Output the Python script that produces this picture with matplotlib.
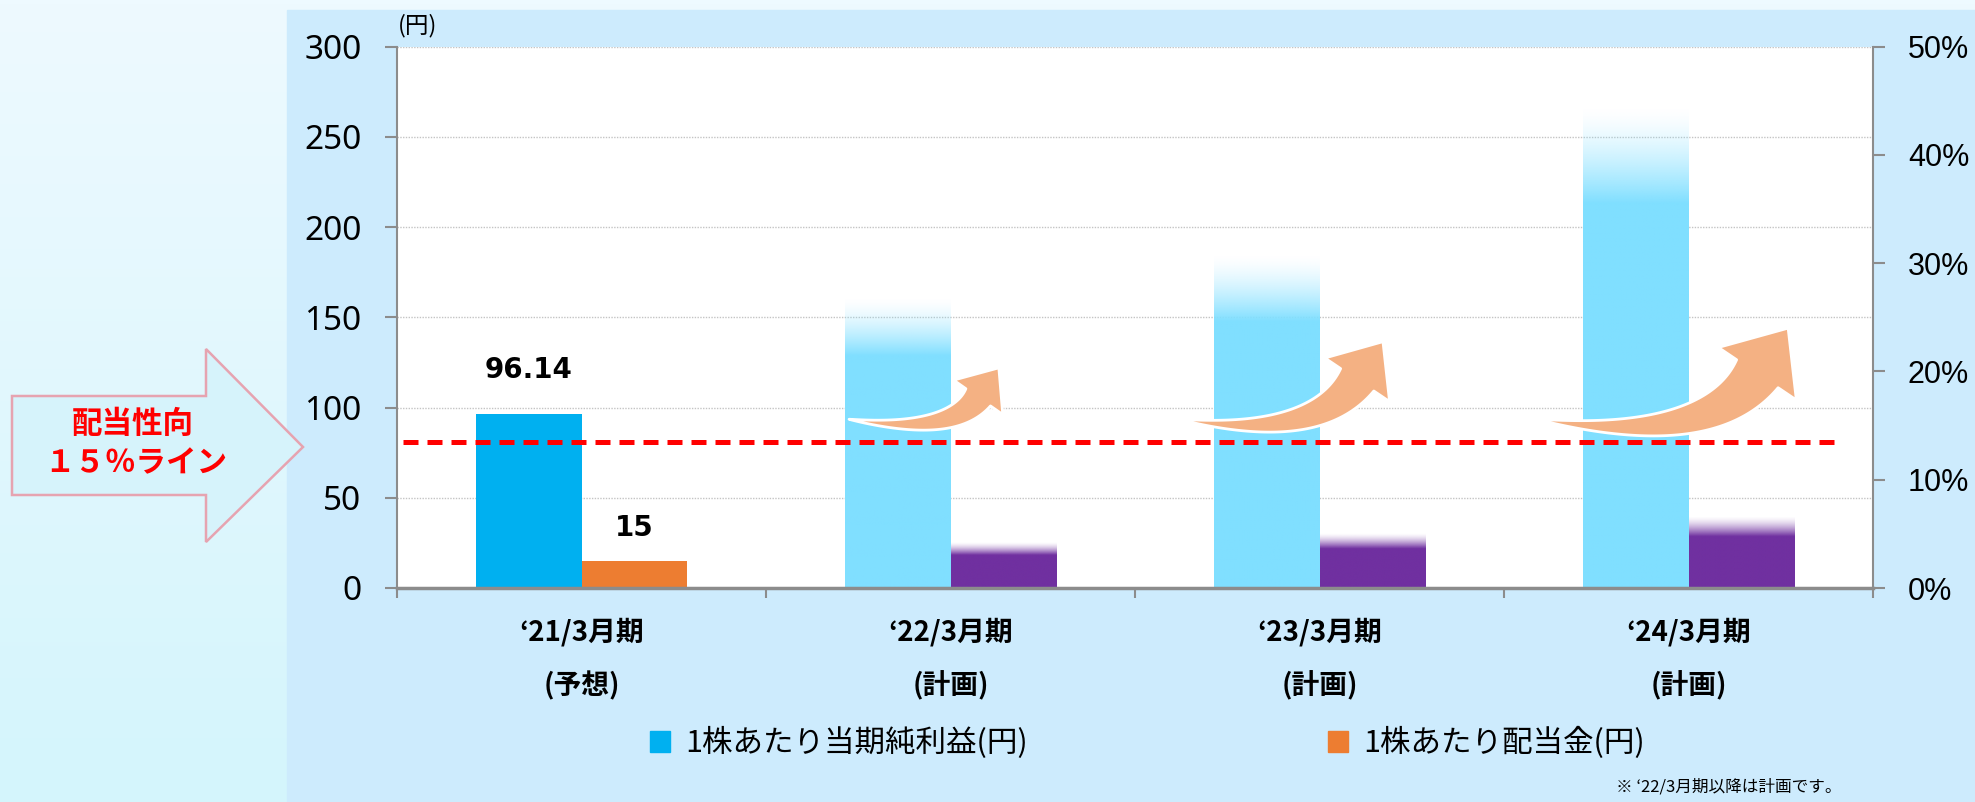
import numpy as np
import matplotlib.pyplot as plt
import matplotlib.transforms as mtransforms
from matplotlib.patches import Patch, Polygon, Rectangle
from matplotlib.colors import to_rgb

plt.rcParams['font.family'] = ['Noto Sans CJK JP', 'DejaVu Sans']

# ── data ─────────────────────────────────────────────────────────────────────
periods      = ['‘21/3月期', '‘22/3月期', '‘23/3月期', '‘24/3月期']
period_notes = ['(予想)', '(計画)', '(計画)', '(計画)']
eps          = [96.14, 161, 185, 267]     # 1株あたり当期純利益(円)
dps          = [15, 25, 30, 39.5]         # 1株あたり配当金(円)
is_plan      = [False, True, True, True]
payout_line  = 13.5                       # 配当性向ライン (%), right axis
left_ticks   = [0, 50, 100, 150, 200, 250, 300]
right_ticks  = [0, 10, 20, 30, 40, 50]
legend_labels = ['1株あたり当期純利益(円)', '1株あたり配当金(円)']

# ── style ────────────────────────────────────────────────────────────────────
C_EPS, C_EPS_PLAN = '#00b0f0', '#80dfff'
C_DPS, C_DPS_PLAN = '#ed7d31', '#7030a0'
GRAY = '#8c8c8c'
W = 0.287
W_PX, H_PX = 1975, 802


def fade_bar(ax, patch, color, fade):
    # solid bar whose top part fades out to white
    x0, y0 = patch.get_x(), patch.get_y()
    w, h = patch.get_width(), patch.get_height()
    f = np.linspace(0, 1, 300)
    img = np.zeros((300, 1, 4))
    img[..., :3] = to_rgb(color)
    img[:, 0, 3] = np.clip((1 - f) / fade, 0, 1) ** 1.5
    ax.imshow(img, origin='lower', extent=[x0, x0 + w, y0, y0 + h],
              aspect='auto', zorder=2, interpolation='bilinear')
    patch.set_facecolor('none')


def curved_arrow(ax, p0, p1, body_w, head_w, head_len, angle, start_angle=-9):
    # tapered curved arrow, built in pixel space and mapped back to data
    P0, P1 = ax.transData.transform([p0, p1])
    d = np.array([np.cos(np.radians(angle)), np.sin(np.radians(angle))])
    a = np.array([np.cos(np.radians(start_angle)), np.sin(np.radians(start_angle))])
    B = P1 - head_len * d
    u, _ = np.linalg.solve(np.column_stack([a, -d]), B - P0)
    C = P0 + u * a
    s = np.linspace(0, 1, 80)[:, None]
    pts = (1 - s) ** 2 * P0 + 2 * (1 - s) * s * C + s ** 2 * B
    tan = 2 * (1 - s) * (C - P0) + 2 * s * (B - C)
    tan /= np.linalg.norm(tan, axis=1, keepdims=True)
    nrm = np.column_stack([-tan[:, 1], tan[:, 0]])
    hw = body_w / 2 * s ** 0.9
    left, right = pts + nrm * hw, pts - nrm * hw
    n_end = np.array([-d[1], d[0]])
    poly = np.vstack([left, B + n_end * head_w / 2, P1, B - n_end * head_w / 2, right[::-1]])
    ax.add_patch(Polygon(ax.transData.inverted().transform(poly), closed=True,
                         facecolor='#f4b183', edgecolor='white', linewidth=2,
                         joinstyle='round', zorder=4))


fig = plt.figure(figsize=(W_PX / 100, H_PX / 100), dpi=100)

# background gradient + chart panel
bg = fig.add_axes([0, 0, 1, 1], zorder=-10)
grad = np.linspace(0, 1, 200)[:, None, None]
top_c, bot_c = np.array(to_rgb('#eefaff')), np.array(to_rgb('#d4f5fc'))
bg.imshow(top_c * (1 - grad) + bot_c * grad, extent=[0, 1, 0, 1], aspect='auto')
bg.add_patch(Rectangle((287 / W_PX, 0), 1, 1 - 10 / H_PX, color='#cdebfd'))
bg.set_xlim(0, 1)
bg.set_ylim(0, 1)
bg.axis('off')

# left call-out arrow "配当性向 15%ライン"
pts = [(12, 396), (206, 396), (206, 349), (303, 447), (206, 542), (206, 495), (12, 495)]
fig.patches.append(Polygon([(x / W_PX, 1 - y / H_PX) for x, y in pts], closed=True,
                           transform=fig.transFigure, facecolor='#d6f3fb',
                           edgecolor='#e6a3b0', linewidth=1.8, zorder=1))
fig.text(133 / W_PX, 1 - 424 / H_PX, '配当性向', color='#ff0000', fontsize=22,
         fontweight='bold', ha='center', va='center')
fig.text(136 / W_PX, 1 - 463 / H_PX, '１５％ライン', color='#ff0000', fontsize=22,
         fontweight='bold', ha='center', va='center')

# main axes
ax = fig.add_axes([397 / W_PX, 1 - 588 / H_PX, (1873 - 397) / W_PX, (588 - 46.6) / H_PX])
ax.set_facecolor('white')
x = np.arange(len(periods))

eps_bars = ax.bar(x - W / 2, eps, W, color=[C_EPS if not p else C_EPS_PLAN for p in is_plan], zorder=2)
dps_bars = ax.bar(x + W / 2, dps, W, color=[C_DPS if not p else C_DPS_PLAN for p in is_plan], zorder=2)
for b, p in zip(eps_bars, is_plan):
    if p:
        fade_bar(ax, b, C_EPS_PLAN, 0.2)
for b, p in zip(dps_bars, is_plan):
    if p:
        fade_bar(ax, b, C_DPS_PLAN, 0.28)

ax.set_xlim(-0.5, len(periods) - 0.5)
ax.set_ylim(0, 300)

# value labels on the actual year
ax.annotate(f'{eps[0]:.2f}', (x[0] - W / 2, eps[0]), xytext=(0, 32), textcoords='offset points',
            ha='center', va='center', fontsize=20, fontweight='bold', family='DejaVu Sans')
ax.annotate(f'{dps[0]:g}', (x[0] + W / 2, dps[0]), xytext=(0, 24), textcoords='offset points',
            ha='center', va='center', fontsize=20, fontweight='bold', family='DejaVu Sans')

# growth arrows: (category, tail dx, tail y, tip dx, tip y, body px, head px, head len px, angle)
arrow_geo = [(1, -0.275, 93.5, 0.131, 122, 30, 60, 36, 55),
             (2, -0.38, 93.5, 0.172, 136.5, 40, 78, 46, 56),
             (3, -0.41, 93.5, 0.27, 144, 50, 94, 55, 56)]
for i, dx0, y0, dx1, y1, bw, hw, hl, ang in arrow_geo:
    curved_arrow(ax, (x[i] + dx0, y0), (x[i] + dx1, y1), bw, hw, hl, ang)

ax.set_yticks(left_ticks)
ax.yaxis.grid(True, linestyle=(0, (1, 1)), color='#c4c4c4', linewidth=1)
ax.set_axisbelow(True)
ax.set_xticks(np.arange(-0.5, len(periods), 1))
ax.set_xticklabels([])
ax.tick_params(axis='x', direction='out', length=7, width=1.5, color=GRAY)
ax.tick_params(axis='y', direction='out', length=8.6, width=1.5, color=GRAY,
               labelsize=24, pad=17, labelfontfamily='Noto Sans')
for s in ['top', 'right']:
    ax.spines[s].set_visible(False)
ax.spines['left'].set_color(GRAY)
ax.spines['left'].set_linewidth(1.5)
ax.spines['bottom'].set_color(GRAY)
ax.spines['bottom'].set_linewidth(2.5)

trans = mtransforms.blended_transform_factory(ax.transData, ax.transAxes)
for xi, p, n in zip(x, periods, period_notes):
    ax.text(xi, -0.0813, p, transform=trans, ha='center', va='center', fontsize=20, fontweight='bold')
    ax.text(xi, -0.181, n, transform=trans, ha='center', va='center', fontsize=20, fontweight='bold')

ax.text(-0.443, 1.038, '(円)', transform=trans, ha='center', va='center', fontsize=17)

# right axis: payout ratio
ax2 = ax.twinx()
ax2.set_ylim(0, 50)
ax2.set_yticks(right_ticks)
ax2.set_yticklabels([f'{v}%' for v in right_ticks])
ax2.tick_params(axis='y', direction='out', length=8.6, width=1.5, color=GRAY,
                labelsize=22, pad=16.5, labelfontfamily='Liberation Sans')
for s in ['top', 'left', 'bottom']:
    ax2.spines[s].set_visible(False)
ax2.spines['right'].set_color(GRAY)
ax2.spines['right'].set_linewidth(1.5)
ax2.plot([-0.484, 3.40], [payout_line, payout_line], color='#ff0000', linewidth=3.6,
         dashes=(3, 1.8), zorder=5)

# legend
handles = [Patch(color=C_EPS), Patch(color=C_DPS)]
fig.legend(handles, legend_labels, loc='center', bbox_to_anchor=(0.581, 1 - 743 / H_PX),
           ncol=2, frameon=False, fontsize=22, handlelength=0.65, handleheight=0.65,
           handletextpad=0.5, columnspacing=9.8)

fig.text(1616 / W_PX, 1 - 787 / H_PX, '※ ‘22/3月期以降は計画です。', fontsize=12,
         ha='left', va='center')

fig.savefig('out.png', dpi=100)
